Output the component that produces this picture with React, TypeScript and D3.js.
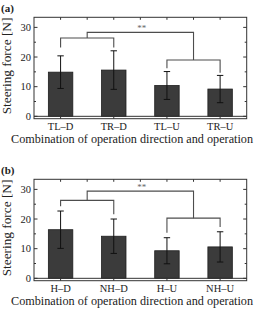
import React from "react";
import * as d3 from "d3";

const catsA = ["TL–D", "TR–D", "TL–U", "TR–U"];
const meanA = [14.9, 15.6, 10.4, 9.2];
const sdA = [5.5, 6.5, 4.7, 4.6];
// bracket levels: [left horizontal, left-left drop, left-right drop, right horizontal, right-left drop, right-right drop, top horizontal]
const bracketA = [26.4, 23.2, 23.2, 19.0, 16.2, 14.7, 28.3];

const catsB = ["H–D", "NH–D", "H–U", "NH–U"];
const meanB = [16.4, 14.2, 9.3, 10.6];
const sdB = [6.3, 5.8, 4.4, 5.1];
const bracketB = [26.3, 24.3, 21.6, 20.3, 15.4, 17.3, 29.4];

const majorTicks = [0, 10, 20, 30];
const minorTicks = [5, 15, 25];
const sigLabel = "**";
const yLabel = "Steering force [N]";
const xLabel = "Combination of operation direction and operation";

const FONT = "'Liberation Serif', 'Times New Roman', serif";

function Panel({ top, label, cats, mean, sd, br }: any) {
  const left = 34;
  const right = 246.7;
  const boxTop = top + 17.3;
  const boxBottom = top + 118.7;
  const x = d3.scaleBand<string>().domain(cats).range([left, right]).paddingInner(0.54).paddingOuter(0.27);
  const y = d3.scaleLinear().domain([-0.8, 33.4]).range([boxBottom, boxTop]);
  const step = (right - left) / cats.length;
  const cx = (i: number) => (x(cats[i]) as number) + x.bandwidth() / 2;
  const bw = x.bandwidth();
  const cap = 3.2;
  const bc = "#4d4d4d";
  const mid01 = (cx(0) + cx(1)) / 2;
  const mid23 = (cx(2) + cx(3)) / 2;
  const halfTicks = d3.range(1, cats.length * 2).map((k) => left + (k * step) / 2);
  return (
    <g>
      <text x={1} y={top + 12} fontFamily={FONT} fontWeight="bold" fontSize={11} fill="#222">{label}</text>
      {mean.map((m: number, i: number) => (
        <rect key={"b" + i} x={x(cats[i])} y={y(m)} width={bw} height={y(0) - y(m)} fill="#3b3b3b" stroke="#1e1e1e" strokeWidth={0.8} />
      ))}
      {mean.map((m: number, i: number) => (
        <g key={"e" + i} stroke="#111" strokeWidth={1}>
          <line x1={cx(i)} x2={cx(i)} y1={y(m + sd[i])} y2={y(m - sd[i])} />
          <line x1={cx(i) - cap} x2={cx(i) + cap} y1={y(m + sd[i])} y2={y(m + sd[i])} />
          <line x1={cx(i) - cap} x2={cx(i) + cap} y1={y(m - sd[i])} y2={y(m - sd[i])} />
        </g>
      ))}
      <line x1={left} x2={right} y1={y(0)} y2={y(0)} stroke="#333" strokeWidth={1} />
      <rect x={left} y={boxTop} width={right - left} height={boxBottom - boxTop} fill="none" stroke="#333" strokeWidth={1} />
      {majorTicks.map((t) => (
        <g key={"m" + t} stroke="#333" strokeWidth={1}>
          <line x1={left} x2={left + 3.5} y1={y(t)} y2={y(t)} />
          <line x1={right - 3.5} x2={right} y1={y(t)} y2={y(t)} />
        </g>
      ))}
      {minorTicks.map((t) => (
        <g key={"n" + t} stroke="#333" strokeWidth={1}>
          <line x1={left} x2={left + 2} y1={y(t)} y2={y(t)} />
          <line x1={right - 2} x2={right} y1={y(t)} y2={y(t)} />
        </g>
      ))}
      {majorTicks.map((t) => (
        <text key={"l" + t} x={31} y={y(t) + 3.6} textAnchor="end" fontFamily={FONT} fontSize={10.5} fill="#222">{t}</text>
      ))}
      {cats.map((c: string, i: number) => (
        <line key={"xt" + i} x1={cx(i)} x2={cx(i)} y1={boxBottom} y2={boxBottom - 3} stroke="#333" strokeWidth={1} />
      ))}
      {halfTicks.map((tx, i) => (
        <line key={"ht" + i} x1={tx} x2={tx} y1={boxTop} y2={boxTop + 2.5} stroke="#333" strokeWidth={1} />
      ))}
      {cats.map((c: string, i: number) => (
        <text key={"xl" + i} x={cx(i)} y={top + 129.8} textAnchor="middle" fontFamily={FONT} fontSize={10.5} fill="#222">{c}</text>
      ))}
      <text x={132} y={top + 143} textAnchor="middle" fontFamily={FONT} fontSize={12.2} fill="#222">{xLabel}</text>
      <text transform={`translate(11,${top + 66}) rotate(-90)`} textAnchor="middle" fontFamily={FONT} fontSize={13.3} fill="#222">{yLabel}</text>
      <g stroke={bc} strokeWidth={1.1} fill="none">
        <polyline points={`${cx(0)},${y(br[1])} ${cx(0)},${y(br[0])} ${cx(1)},${y(br[0])} ${cx(1)},${y(br[2])}`} />
        <polyline points={`${cx(2)},${y(br[4])} ${cx(2)},${y(br[3])} ${cx(3)},${y(br[3])} ${cx(3)},${y(br[5])}`} />
        <polyline points={`${mid01},${y(br[0])} ${mid01},${y(br[6])} ${mid23},${y(br[6])} ${mid23},${y(br[3])}`} />
      </g>
      <text x={(mid01 + mid23) / 2 + 1.5} y={y(br[6]) - 1.5} textAnchor="middle" fontFamily={FONT} fontSize={9} fill="#666">{sigLabel}</text>
    </g>
  );
}

export default function App() {
  return (
    <svg width={263} height={312} style={{ position: "absolute", left: 0, top: 0, background: "#fff" }}>
      <rect width={263} height={312} fill="#fff" />
      <Panel top={0} label="(a)" cats={catsA} mean={meanA} sd={sdA} br={bracketA} />
      <Panel top={162} label="(b)" cats={catsB} mean={meanB} sd={sdB} br={bracketB} />
    </svg>
  );
}
